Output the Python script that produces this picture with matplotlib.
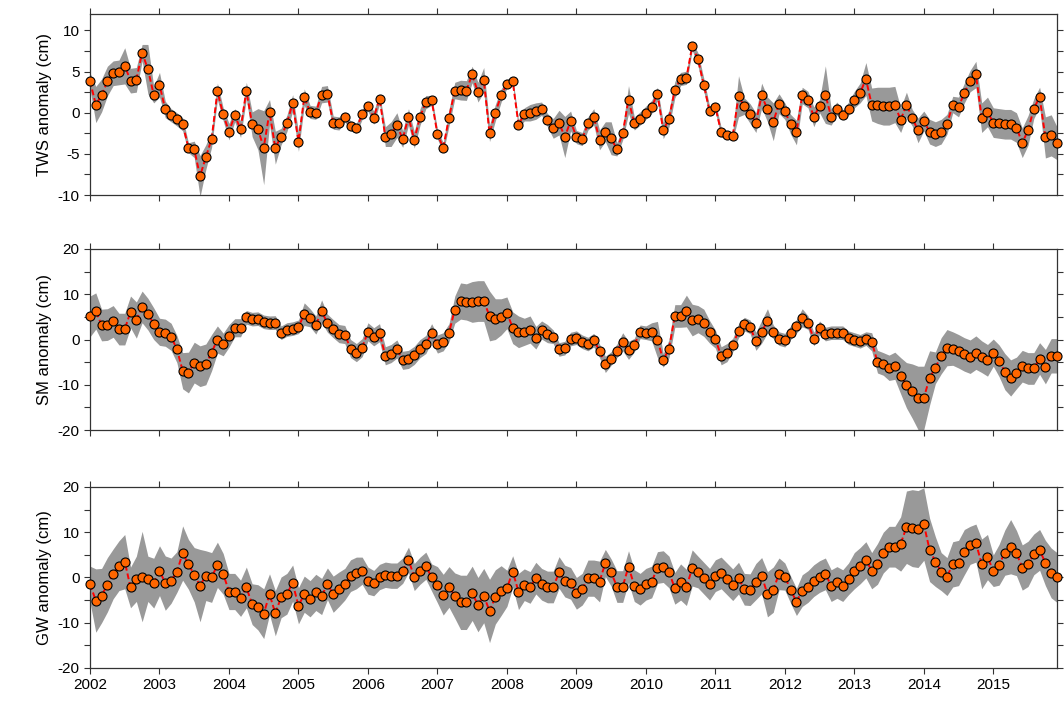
import numpy as np
import matplotlib
matplotlib.use('Agg')
import matplotlib.pyplot as plt
from matplotlib.ticker import MultipleLocator

plt.rcParams['font.family'] = ['Liberation Sans', 'DejaVu Sans']
plt.rcParams['axes.unicode_minus'] = False

# monthly anomalies, Jan 2002 - Dec 2015 (cm)
tws = [3.85, 1.0, 2.1, 3.85, 4.8, 4.9, 5.7, 3.9, 4.0, 7.3, 5.3, 2.2,
       3.4, 0.4, -0.3, -0.8, -1.4, -4.25, -4.45, -7.7, -5.4, -3.2, 2.6, -0.2,
       -2.3, -0.3, -2.0, 2.7, -1.4, -2.0, -4.25, 0.1, -4.25, -2.9, -1.3, 1.2,
       -3.5, 1.9, 0.1, 0.0, 2.2, 2.3, -1.2, -1.3, -0.5, -1.6, -1.9, -0.2,
       0.8, -0.6, 1.7, -2.9, -2.6, -1.5, -3.2, -0.5, -3.3, -0.5, 1.3, 1.5,
       -2.6, -4.25, -0.6, 2.7, 2.75, 2.7, 4.65, 2.5, 4.0, -2.5, 0.0, 2.1,
       3.5, 3.85, -1.45, -0.2, 0.0, 0.2, 0.5, -0.9, -1.9, -1.2, -2.95, -1.0,
       -2.95, -3.2, -1.3, -0.5, -3.3, -2.3, -3.1, -4.45, -2.5, 1.6, -1.3, -0.7,
       0.0, 0.7, 2.3, -2.15, -0.7, 2.8, 4.1, 4.25, 8.1, 6.5, 3.4, 0.2,
       0.7, -2.35, -2.7, -2.8, 2.0, 0.8, -0.1, -1.2, 2.1, 0.4, -1.1, 1.1,
       0.2, -1.4, -2.4, 2.1, 1.6, -0.5, 0.8, 2.2, -0.5, 0.5, -0.25, 0.5,
       1.6, 2.4, 4.1, 1.0, 0.9, 0.8, 0.8, 1.0, -0.9, 1.0, -0.6, -2.15,
       -1.0, -2.3, -2.6, -2.3, -1.4, 1.0, 0.7, 2.4, 3.85, 4.65, -0.6, 0.1,
       -1.2, -1.3, -1.4, -1.4, -1.8, -3.65, -2.15, 0.5, 1.9, -3.0, -2.75, -3.7]
tws_err = [1.0, 2.2, 2.0, 1.8, 1.5, 1.5, 2.2, 1.5, 1.5, 1.0, 3.0, 1.0,
           1.5, 1.0, 0.8, 0.8, 0.8, 0.6, 1.0, 2.5, 1.5, 1.0, 1.0, 0.8,
           1.0, 0.8, 1.0, 1.0, 1.5, 2.5, 4.5, 1.5, 2.0, 1.0, 1.0, 1.0,
           1.2, 1.0, 0.8, 0.8, 1.0, 1.0, 0.8, 0.8, 0.6, 0.6, 0.6, 0.6,
           0.6, 0.8, 0.6, 1.2, 1.5, 1.5, 1.0, 1.0, 1.0, 1.0, 0.8, 0.6,
           0.6, 0.6, 1.0, 1.0, 1.2, 1.2, 1.0, 1.2, 1.5, 1.0, 1.0, 0.8,
           0.5, 0.5, 0.6, 0.8, 1.0, 1.0, 0.8, 0.8, 1.2, 1.5, 2.5, 1.2,
           0.8, 0.8, 0.8, 1.0, 1.2, 1.2, 2.0, 0.8, 0.8, 1.7, 0.8, 0.8,
           0.8, 0.8, 0.8, 1.0, 1.0, 1.0, 0.8, 0.8, 0.5, 0.8, 0.8, 0.6,
           0.6, 0.6, 0.5, 0.5, 2.5, 1.0, 1.2, 1.2, 1.5, 1.5, 2.3, 1.2,
           1.0, 1.2, 1.5, 1.0, 1.0, 1.2, 0.8, 3.5, 1.0, 0.8, 0.6, 0.8,
           1.0, 1.2, 2.0, 2.0, 2.2, 2.3, 2.3, 2.2, 1.5, 1.5, 1.0, 1.5,
           1.2, 1.5, 1.5, 1.5, 1.2, 1.0, 1.2, 1.2, 1.3, 1.6, 1.8, 1.8,
           1.8, 1.8, 1.8, 1.8, 1.8, 1.8, 1.8, 1.2, 1.2, 2.5, 2.5, 2.0]

sm = [5.1, 6.3, 3.2, 3.3, 4.0, 2.3, 2.3, 6.1, 4.3, 7.2, 5.6, 3.5,
      1.7, 1.5, 0.6, -2.1, -6.9, -7.3, -5.1, -5.9, -5.5, -2.9, 0.0, -1.1,
      0.8, 2.6, 2.6, 4.9, 4.5, 4.6, 3.9, 3.7, 3.75, 1.5, 2.2, 2.4,
      2.8, 5.6, 4.8, 3.2, 6.25, 3.6, 2.4, 1.3, 1.1, -2.0, -2.9, -1.8,
      1.7, 0.6, 1.5, -3.6, -3.1, -2.1, -4.6, -4.4, -3.5, -2.0, -1.1, 1.5,
      -1.0, -0.5, 1.5, 6.6, 8.5, 8.3, 8.3, 8.5, 8.5, 5.2, 4.5, 5.0,
      5.9, 2.6, 1.7, 1.7, 2.2, 0.4, 2.1, 1.3, 0.6, -2.2, -1.9, 0.1,
      0.4, -0.5, -1.0, -0.15, -2.5, -5.5, -4.2, -2.5, -0.5, -2.4, -1.25, 1.7,
      1.5, 1.7, 0.0, -4.6, -2.0, 5.2, 5.2, 6.3, 4.3, 4.5, 3.7, 1.7,
      0.1, -3.6, -2.9, -1.25, 1.9, 3.4, 2.8, -0.4, 1.7, 4.1, 1.7, 0.2,
      -0.15, 1.5, 2.9, 4.8, 3.75, 0.1, 2.6, 1.2, 1.5, 1.5, 1.5, 0.4,
      0.0, -0.4, 0.2, -0.5, -4.9, -5.4, -6.25, -5.8, -8.0, -10.1, -11.4, -12.9,
      -12.9, -8.5, -6.25, -3.6, -1.8, -2.0, -2.6, -3.3, -3.8, -2.9, -3.8, -4.6,
      -2.9, -4.7, -7.1, -8.5, -7.4, -5.9, -6.4, -6.4, -4.2, -6.0, -3.6, -3.6]
sm_err = [4.5, 4.0, 3.5, 3.5, 3.5, 3.5, 3.5, 3.5, 4.0, 3.5, 3.5, 3.5,
          3.0, 3.0, 3.0, 3.0, 4.0, 4.5, 4.5, 4.5, 4.5, 4.0, 3.0, 2.5,
          2.5, 2.0, 2.0, 1.5, 1.5, 1.5, 1.5, 1.5, 1.5, 1.5, 1.5, 1.5,
          1.5, 2.5, 2.0, 2.0, 2.5, 2.0, 2.0, 2.0, 2.0, 2.0, 2.0, 2.0,
          2.0, 2.0, 2.0, 2.0, 2.0, 2.0, 2.0, 2.0, 2.0, 2.0, 2.0, 2.0,
          2.0, 2.0, 2.0, 3.0, 4.0, 4.0, 4.5, 4.5, 4.5, 5.5, 4.5, 4.0,
          3.5, 3.5, 3.5, 3.0, 3.0, 2.5, 2.0, 2.0, 1.5, 1.5, 1.5, 1.5,
          1.5, 1.5, 1.5, 1.5, 1.5, 1.8, 1.5, 1.5, 2.0, 2.0, 1.5, 1.5,
          1.5, 2.0, 4.0, 1.5, 2.0, 2.5, 2.5, 3.5, 3.5, 3.0, 3.0, 2.5,
          2.0, 2.0, 2.0, 1.5, 1.5, 1.5, 1.5, 2.0, 2.5, 2.7, 1.5, 1.5,
          1.5, 1.5, 1.5, 2.0, 1.5, 1.5, 1.5, 1.5, 1.5, 1.5, 1.5, 1.5,
          1.5, 1.5, 1.5, 2.0, 2.5, 2.5, 2.8, 3.0, 4.0, 5.0, 6.0, 7.0,
          7.0, 6.0, 3.5, 4.0, 4.0, 3.7, 3.7, 3.7, 3.7, 3.7, 3.5, 3.5,
          3.0, 3.5, 4.0, 4.0, 3.5, 3.5, 3.5, 3.5, 3.5, 3.8, 3.8, 3.8]

gw = [-1.5, -5.1, -4.0, -1.6, 0.8, 2.6, 3.5, -2.2, -0.3, 0.2, -0.3, -1.25,
      1.5, -1.25, -0.7, 1.2, 5.4, 2.9, 0.6, -1.8, 0.4, 0.0, 2.8, 0.8,
      -3.1, -3.1, -4.6, -2.2, -5.9, -6.6, -8.0, -3.7, -7.9, -4.4, -3.6, -1.25,
      -6.25, -3.7, -4.7, -3.3, -4.2, -1.4, -3.7, -2.6, -1.5, 0.4, 1.0, 1.5,
      -0.7, -1.25, 0.1, 0.6, 0.4, 0.4, 1.5, 3.9, 0.1, 1.5, 2.6, 0.0,
      -1.6, -3.8, -2.1, -4.0, -5.5, -5.5, -3.5, -6.0, -4.0, -7.4, -4.3, -2.9,
      -2.4, 1.3, -3.1, -1.6, -2.2, -0.15, -1.5, -2.1, -2.1, 1.1, -0.8, -1.3,
      -3.5, -2.6, -0.15, -0.15, -0.9, 3.2, 1.1, -2.0, -2.0, 2.4, -1.8, -2.6,
      -1.5, -1.0, 2.2, 2.4, 1.2, -2.4, -1.0, -2.2, 2.1, 1.2, -0.15, -1.5,
      0.4, 1.0, -0.3, -1.6, -0.15, -2.6, -2.7, -0.9, 0.4, -3.7, -2.7, 0.8,
      0.2, -2.7, -5.4, -2.9, -2.0, -0.7, 0.2, 0.8, -1.8, -1.1, -1.8, -0.3,
      1.5, 2.6, 3.9, 1.5, 3.0, 5.5, 6.8, 6.8, 7.4, 11.1, 10.9, 10.7,
      11.8, 6.1, 3.5, 1.3, 0.2, 2.9, 3.2, 5.6, 7.1, 7.6, 3.0, 4.5,
      1.5, 2.8, 5.5, 6.8, 5.4, 2.2, 3.0, 5.1, 6.1, 3.2, 1.0, 0.0]
gw_err = [4.0, 7.0, 6.0, 6.0, 5.5, 5.5, 6.0, 4.5, 5.0, 10.0, 5.0, 5.5,
          5.5, 6.0, 5.0, 4.5, 6.0, 5.5, 6.0, 8.0, 5.5, 5.5, 5.0, 4.5,
          4.0, 4.0, 4.0, 4.5, 4.5, 5.0, 5.5, 4.5, 5.0, 4.5, 4.5, 4.0,
          4.0, 4.0, 4.0, 4.0, 4.0, 3.5, 4.0, 3.8, 3.5, 3.5, 3.5, 3.0,
          3.0, 2.8, 2.8, 2.8, 2.8, 2.8, 2.8, 2.8, 3.0, 3.0, 3.0, 3.0,
          4.0, 4.5, 4.5, 5.0, 6.0, 6.0, 6.0, 6.0, 6.0, 7.0, 6.0, 5.5,
          4.0, 3.5, 4.0, 3.5, 3.5, 3.5, 3.5, 3.5, 3.5, 3.5, 3.5, 3.5,
          3.5, 3.5, 4.0, 4.0, 4.5, 3.0, 3.0, 3.5, 3.5, 3.5, 3.5, 3.5,
          3.5, 3.5, 3.5, 3.5, 3.5, 3.5, 4.0, 4.0, 4.0, 3.5, 3.5, 3.5,
          3.5, 3.5, 3.5, 3.5, 3.5, 3.5, 3.5, 4.0, 4.0, 5.0, 5.0, 3.5,
          3.0, 3.0, 3.0, 3.5, 3.5, 3.5, 3.5, 3.5, 3.5, 3.5, 3.5, 3.5,
          4.0, 4.0, 4.0, 4.0, 4.5, 4.5, 4.5, 4.5, 6.0, 8.0, 8.5, 8.5,
          8.0, 7.0, 5.5, 4.2, 4.2, 5.0, 5.0, 5.0, 4.2, 4.2, 5.5, 5.0,
          3.5, 4.5, 5.0, 6.0, 5.0, 5.0, 5.0, 4.5, 4.5, 5.0, 5.5, 5.5]

years = list(range(2002, 2016))
t = 2002 + np.arange(len(tws)) / 12.0

panels = [
    (tws, tws_err, 'TWS anomaly (cm)', (-10, 12), 5, 2.5),
    (sm, sm_err, 'SM anomaly (cm)', (-20, 20), 10, 5),
    (gw, gw_err, 'GW anomaly (cm)', (-20, 20), 10, 5),
]
# axes boxes in figure fractions: left, bottom, width, height
boxes = [
    [0.0846, 0.7257, 0.9088, 0.2546],
    [0.0846, 0.3952, 0.9088, 0.2546],
    [0.0846, 0.0605, 0.9088, 0.2546],
]

fig = plt.figure(figsize=(10.64, 7.11), dpi=100)
axes = []
for i, (vals, err, label, ylim, major, minor) in enumerate(panels):
    ax = fig.add_axes(boxes[i])
    v = np.array(vals)
    e = np.array(err)
    ax.fill_between(t, v - e, v + e, color='#999999', linewidth=0, zorder=1)
    ax.plot(t, v, color='red', linewidth=1.4, dashes=(3, 1.5), zorder=2)
    ax.plot(t, v, linestyle='none', marker='o', markersize=6.5,
            markerfacecolor='#ff6600', markeredgecolor='black',
            markeredgewidth=0.8, zorder=3, clip_on=False)
    ax.set_xlim(t[0], t[-1])
    ax.set_ylim(*ylim)
    ax.yaxis.set_major_locator(MultipleLocator(major))
    ax.yaxis.set_minor_locator(MultipleLocator(minor))
    ax.set_xticks(years)
    ax.tick_params(which='both', direction='out', top=True, right=True,
                   length=4, width=0.8, color='#333333', labelsize=11)
    ax.tick_params(axis='x', which='minor', bottom=False, top=False)
    if i < 2:
        ax.set_xticklabels([])
    ax.set_ylabel(label, fontsize=12)
    for s in ax.spines.values():
        s.set_color('#333333')
        s.set_linewidth(0.9)
    axes.append(ax)

fig.align_ylabels(axes)
fig.savefig('out.png', dpi=100)
